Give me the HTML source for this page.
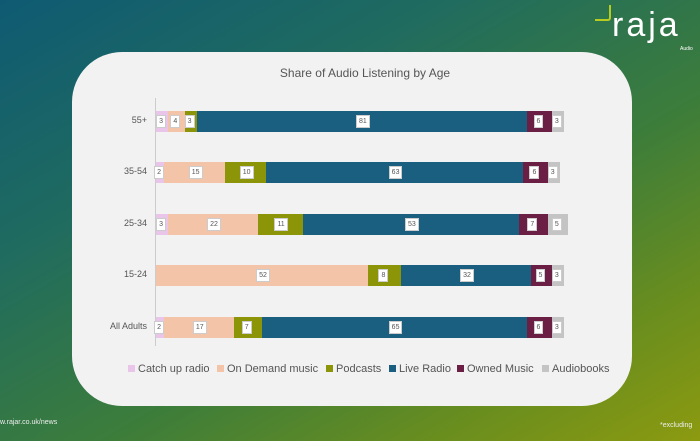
<!DOCTYPE html>
<html><head><meta charset="utf-8"><style>
body{margin:0;width:700px;height:441px;overflow:hidden;position:relative;font-family:"Liberation Sans",sans-serif;
background:linear-gradient(150deg,#0f5a72 0%,#1f6b60 30%,#3d7d3a 60%,#6a8e1e 82%,#8c9a10 100%);}
#panel{position:absolute;left:72px;top:52px;width:560px;height:354px;background:#f2f2f2;border-radius:50px;}
.t{position:absolute;color:#555;}
.seg{position:absolute;height:21px;}
.lb{position:absolute;background:#fff;font-size:7px;color:#555;height:11px;line-height:11px;text-align:center;padding:0 2px;border:1px solid #ccc;}
.lg{position:absolute;top:363px;font-size:11px;color:#555;}
.lg i{display:inline-block;width:7px;height:7px;margin-right:3px;vertical-align:0px;}
</style></head><body>
<div id="panel"></div>
<div class="t" style="left:0;width:730px;text-align:center;top:66px;font-size:12px;">Share of Audio Listening by Age</div>
<div style="position:absolute;left:155px;top:98px;width:1px;height:248px;background:#ccc"></div>
<div id="bars"></div>
<div class="lg" style="left:128px"><i style="background:#e9c6e9"></i>Catch up radio</div>
<div class="lg" style="left:217px"><i style="background:#f4c4a8"></i>On Demand music</div>
<div class="lg" style="left:326px"><i style="background:#8c9408"></i>Podcasts</div>
<div class="lg" style="left:389px"><i style="background:#1a5e80"></i>Live Radio</div>
<div class="lg" style="left:457px"><i style="background:#6b1f45"></i>Owned Music</div>
<div class="lg" style="left:542px"><i style="background:#c4c4c4"></i>Audiobooks</div>
<div style="position:absolute;left:595px;top:5px;width:14px;height:14px;border-right:2px solid #b8cc20;border-bottom:2px solid #b8cc20;border-bottom-right-radius:3px;"></div>
<div style="position:absolute;left:612px;top:6px;font-size:34px;color:#fff;letter-spacing:3px;">raja</div>
<div style="position:absolute;left:680px;top:46px;font-size:5px;color:#fff;">Audio</div>
<div style="position:absolute;left:0;top:419px;font-size:7px;color:#eee;">w.rajar.co.uk/news</div>
<div style="position:absolute;left:660px;top:422px;font-size:7px;color:#eee;">*excluding</div>
<script>
var cols=["#e9c6e9","#f4c4a8","#8c9408","#1a5e80","#6b1f45","#c4c4c4"];
var rows=[["55+",121,[3,4,3,81,6,3]],["35-54",172,[2,15,10,63,6,3]],["25-34",224,[3,22,11,53,7,5]],["15-24",275,[0,52,8,32,5,3]],["All Adults",327,[2,17,7,65,6,3]]];
var h="";
rows.forEach(function(r){
 var x=156,y=r[1]-10;
 h+='<div class="t" style="right:553px;top:'+(r[1]-6)+'px;font-size:9px;text-align:right">'+r[0]+'</div>';
 r[2].forEach(function(v,i){ if(!v)return; var w=v*4.08;
  h+='<div class="seg" style="left:'+x+'px;top:'+y+'px;width:'+w+'px;background:'+cols[i]+'"></div>';
  h+='<div class="lb" style="left:'+(x+w/2-6)+'px;top:'+(r[1]-6)+'px">'+v+'</div>';
  x+=w;});
});
document.getElementById("bars").innerHTML=h;
</script>
</body></html>
